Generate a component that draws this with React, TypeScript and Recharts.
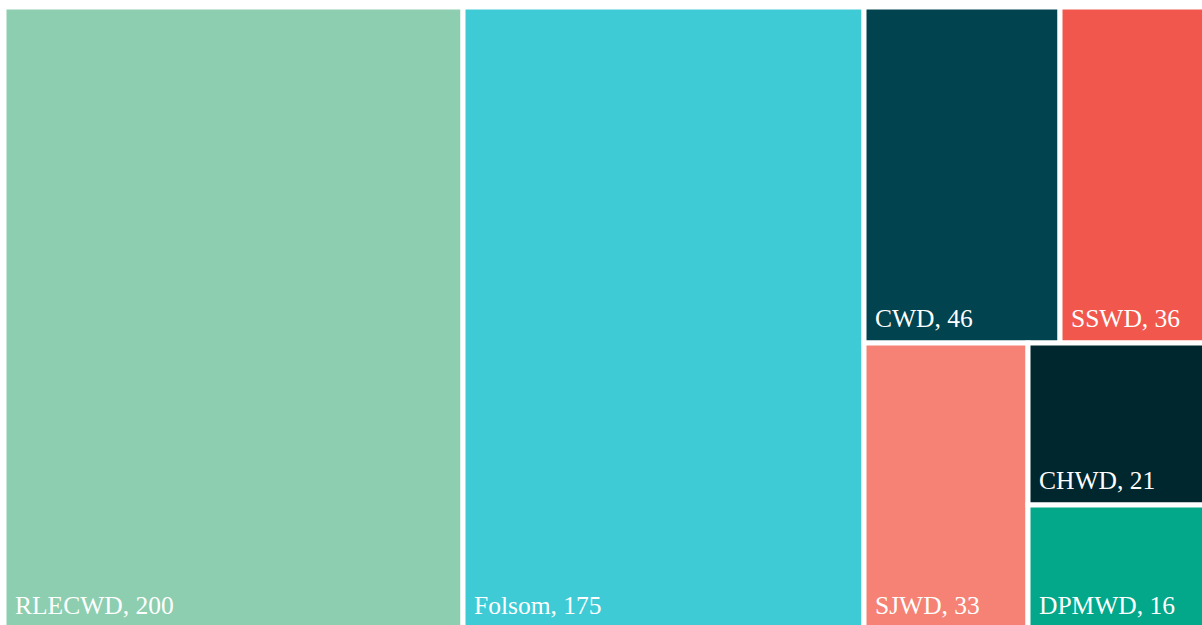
import { Treemap } from 'recharts';

const districts = ['RLECWD', 'Folsom', 'CWD', 'SSWD', 'SJWD', 'CHWD', 'DPMWD'];
const customers = [200, 175, 46, 36, 33, 21, 16];
const colors = ['#8CCEAF', '#3ECBD5', '#01434F', '#F2574D', '#F58274', '#00262E', '#02A889'];

const data = districts.map((name, i) => ({ name, size: customers[i], fill: colors[i] }));

const SERIF = "'Liberation Serif', 'Times New Roman', serif";

function Cell(props: any) {
  const { x, y, width, height, depth, name, size, fill } = props;
  if (depth !== 1) return <g />;
  return (
    <g>
      <rect x={x} y={y} width={width} height={height} fill={fill} stroke="#fff" strokeWidth={5} />
      <text
        x={x + 11}
        y={y + height - 16.5}
        fill="#fff"
        stroke="none"
        fontSize={25.5}
        style={{ fontFamily: SERIF }}
      >
        {`${name}, ${size}`}
      </text>
    </g>
  );
}

export default function App() {
  return (
    <div style={{ position: 'fixed', inset: 0, overflow: 'hidden', background: '#fff' }}>
      <div style={{ position: 'absolute', left: 4, top: 7 }}>
        <Treemap
          width={1209}
          height={623}
          data={data}
          dataKey="size"
          aspectRatio={1.13}
          stroke="#fff"
          isAnimationActive={false}
          content={<Cell />}
        />
      </div>
    </div>
  );
}
